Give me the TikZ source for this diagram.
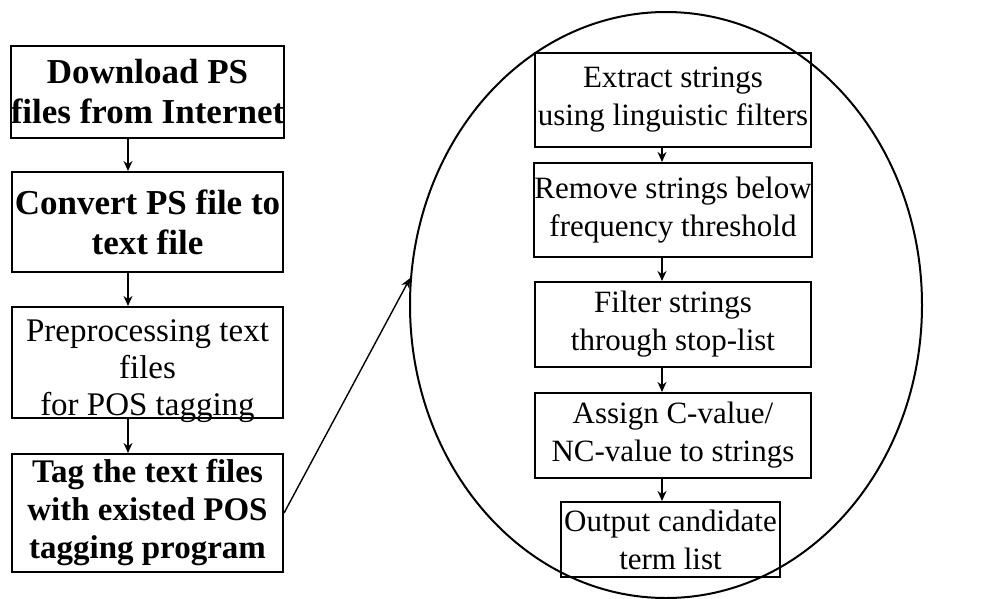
\documentclass[tikz,border=0pt]{standalone}
\usepackage{fontspec}
\setmainfont{Liberation Serif}
\usetikzlibrary{shapes.geometric,arrows.meta}
\begin{document}
\begin{tikzpicture}[x=1pt,y=1pt,
  lbox/.style={draw,line width=2.1pt,inner sep=0pt,align=center,
    font=\fontsize{35}{40}\selectfont},
  rbox/.style={draw,line width=2.1pt,inner sep=0pt,align=center,
    font=\fontsize{31}{38}\selectfont},
  arr/.style={line width=1.4pt,-{Stealth[length=10pt,width=9pt]}}]
\useasboundingbox (0,0) rectangle (997,-598);

% magnified detail
\node[ellipse,draw,line width=2pt,inner sep=0pt,minimum width=512,minimum height=586]
  (zoomcirc) at (666,-305) {};

% left column: preparing the corpus
\node[lbox,minimum width=271,minimum height=92,font=\fontsize{35}{40}\selectfont\bfseries]
  (b1) at (147.5,-92) {Download PS\\files from Internet};
\node[lbox,minimum width=271,minimum height=100,font=\fontsize{35}{40}\selectfont\bfseries]
  (b2) at (147.5,-222) {Convert PS file to\\text file};
\node[lbox,minimum width=271,minimum height=111] (b3) at (147.5,-362.5) {};
\node[align=center,inner sep=0pt,font=\fontsize{33}{37}\selectfont]
  (b3text) at ([yshift=-9pt]b3.center) {Preprocessing text\\files\\for POS tagging};
\node[lbox,minimum width=271,minimum height=118,font=\fontsize{33}{38}\selectfont\bfseries]
  (b4) at (147.5,-513) {Tag the text files\\with existed POS\\tagging program};

% right column: term extraction
\node[rbox,minimum width=276,minimum height=94] (r1) at (673,-100)
  {Extract strings\\using linguistic filters};
\node[rbox,minimum width=276,minimum height=94] (r2) at (673,-210)
  {Remove strings below\\frequency threshold};
\node[rbox,minimum width=276,minimum height=85] (r3) at (673,-324.5)
  {Filter strings\\through stop-list};
\node[rbox,minimum width=276,minimum height=85] (r4) at (673,-435.5)
  {Assign C-value/\\NC-value to strings};
\node[rbox,minimum width=219,minimum height=75] (r5) at (670.5,-539.5)
  {Output candidate\\term list};

% connectors
\foreach \a/\b in {b1/b2,b2/b3,b3/b4}
  \draw[arr] ([xshift=-19.5pt]\a.south) -- ([xshift=-19.5pt]\a.south |- \b.north);
\foreach \a/\b in {r1/r2,r2/r3,r3/r4,r4/r5}
  \draw[arr] ([xshift=-11pt]\a.south) -- ([xshift=-11pt]\a.south |- \b.north);
\draw[arr] (b4.east) -- (zoomcirc.174);
\end{tikzpicture}
\end{document}
